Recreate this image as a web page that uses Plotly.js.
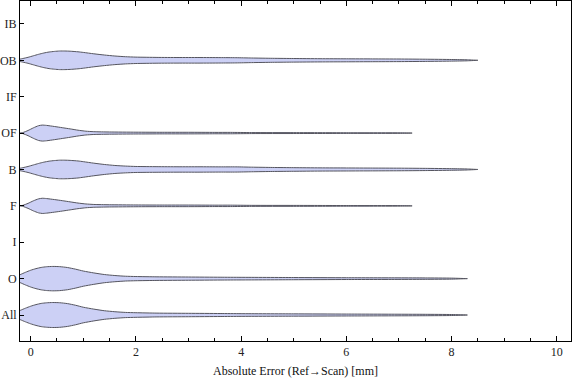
<!DOCTYPE html>
<html>
<head>
<meta charset="utf-8">
<script src="https://cdn.plot.ly/plotly-3.0.1.min.js"></script>
<style>html,body{margin:0;padding:0;background:#fff;}#chart{width:576px;height:381px;}</style>
</head>
<body>
<div id="chart"></div>
<script>
// Categories (bottom to top)
const categories = ["All", "O", "I", "F", "B", "OF", "IF", "OB", "IB"];

// Estimated density profiles (x = absolute error, d = relative density / half-width)
const allX = [-0.4, -0.3, -0.2, -0.1, 0, 0.1, 0.2, 0.3, 0.42, 0.55, 0.7, 0.85, 1.0, 1.2, 1.4, 1.6, 1.8, 2.0, 2.4, 3.0, 3.6, 4.0, 5.0, 6.0, 7.0, 7.5, 8.0, 8.3];
const allD = [0.6, 2.2, 4.6, 6.8, 8.8, 10.4, 11.6, 12.2, 12.5, 12.3, 11.4, 9.8, 7.8, 5.9, 4.3, 3.3, 2.6, 2.3, 1.9, 1.7, 1.5, 1.35, 1.15, 0.95, 0.8, 0.7, 0.5, 0.0];

const oX = [-0.4, -0.3, -0.2, -0.1, 0, 0.1, 0.2, 0.3, 0.42, 0.55, 0.7, 0.85, 1.0, 1.2, 1.4, 1.6, 1.8, 2.0, 2.4, 3.0, 3.6, 4.0, 5.0, 6.0, 7.0, 7.5, 8.0, 8.3];
const oD = [0.5, 1.8, 4.0, 6.3, 8.4, 10.0, 11.2, 11.9, 12.2, 12.0, 11.1, 9.5, 7.6, 5.7, 4.1, 3.1, 2.4, 2.1, 1.8, 1.6, 1.4, 1.3, 1.1, 0.9, 0.8, 0.7, 0.5, 0.0];

const fX = [-0.2, -0.15, -0.05, 0.05, 0.15, 0.22, 0.3, 0.45, 0.6, 0.75, 0.9, 1.05, 1.2, 1.5, 2.0, 2.5, 3.0, 3.5, 3.8, 4.2, 5.0, 5.5, 6.0, 7.0, 7.25];
const fD = [0.0, 0.5, 2.5, 5.0, 7.0, 7.6, 7.3, 6.3, 5.2, 4.0, 2.8, 1.9, 1.4, 1.1, 0.9, 0.8, 0.8, 0.7, 0.7, 0.5, 0.45, 0.4, 0.3, 0.25, 0.0];

const bX = [-0.35, -0.25, -0.15, -0.05, 0.05, 0.15, 0.25, 0.35, 0.45, 0.55, 0.65, 0.75, 0.9, 1.0, 1.2, 1.4, 1.6, 1.8, 2.0, 2.4, 2.8, 3.2, 3.6, 3.9, 4.2, 4.6, 5.0, 5.5, 6.0, 6.5, 7.0, 7.5, 8.0, 8.3, 8.5];
const bD = [0.2, 0.8, 1.8, 3.0, 4.5, 6.0, 7.3, 8.3, 8.9, 9.3, 9.3, 9.1, 8.5, 7.8, 6.3, 5.0, 4.0, 3.4, 3.0, 2.8, 2.7, 2.7, 2.6, 2.6, 2.3, 2.0, 1.8, 1.6, 1.5, 1.4, 1.3, 1.1, 0.8, 0.5, 0.0];

const ofX = [-0.2, -0.15, -0.05, 0.05, 0.15, 0.22, 0.3, 0.45, 0.6, 0.75, 0.9, 1.05, 1.2, 1.5, 2.0, 2.5, 3.0, 3.5, 3.8, 4.2, 5.0, 5.5, 6.0, 7.0, 7.25];
const ofD = [0.0, 0.5, 2.6, 5.2, 7.4, 8.0, 7.7, 6.6, 5.4, 4.2, 2.9, 1.9, 1.4, 1.1, 0.9, 0.8, 0.8, 0.7, 0.7, 0.5, 0.45, 0.4, 0.3, 0.25, 0.0];

const obX = [-0.35, -0.25, -0.15, -0.05, 0.05, 0.15, 0.25, 0.35, 0.45, 0.55, 0.65, 0.75, 0.9, 1.0, 1.2, 1.4, 1.6, 1.8, 2.0, 2.4, 2.8, 3.2, 3.6, 3.9, 4.2, 4.6, 5.0, 5.5, 6.0, 6.5, 7.0, 7.5, 8.0, 8.3, 8.5];
const obD = [0.2, 0.8, 1.8, 3.0, 4.5, 6.0, 7.3, 8.3, 8.9, 9.3, 9.3, 9.1, 8.5, 7.9, 6.5, 5.3, 4.3, 3.6, 3.2, 2.9, 2.8, 2.8, 2.7, 2.6, 2.3, 2.0, 1.8, 1.6, 1.5, 1.4, 1.3, 1.1, 0.8, 0.5, 0.0];

const profiles = {
  "All": [allX, allD],
  "O": [oX, oD],
  "F": [fX, fD],
  "B": [bX, bD],
  "OF": [ofX, ofD],
  "OB": [obX, obD]
};

const xTickVals = [0, 2, 4, 6, 8, 10];

// ---- build traces ----
const WSCALE = 1 / 36.4; // density -> category units
const traces = [];
categories.forEach((cat, i) => {
  const p = profiles[cat];
  if (!p) return;
  const c = i + 1;
  const xs = p[0], ds = p[1];
  const rx = xs.slice().reverse(), rd = ds.slice().reverse();
  traces.push({
    type: 'scatter', mode: 'lines',
    x: xs.concat(rx),
    y: ds.map(d => c + d * WSCALE).concat(rd.map(d => c - d * WSCALE)),
    fill: 'toself',
    fillcolor: 'rgb(204,208,245)',
    line: {color: 'rgb(85,85,95)', width: 1, shape: 'spline', smoothing: 0.6},
    hoverinfo: 'skip', showlegend: false
  });
});

const fontFam = '"Liberation Serif", "DejaVu Serif", serif';
const layout = {
  width: 576, height: 381,
  margin: {l: 20, r: 5, t: 1, b: 40},
  paper_bgcolor: '#fff', plot_bgcolor: '#fff',
  showlegend: false,
  font: {family: fontFam, size: 12, color: '#222'},
  xaxis: {
    range: [-0.203, 10.27],
    tickvals: xTickVals,
    ticktext: xTickVals.map(String),
    ticks: 'inside', ticklen: 5, tickwidth: 1, tickcolor: '#000',
    minor: {dtick: 0.5, ticks: 'inside', ticklen: 3, tickcolor: '#000', showgrid: false},
    showline: true, linecolor: '#000', linewidth: 1, mirror: 'allticks',
    showgrid: false, zeroline: false,
    tickfont: {family: fontFam, size: 12, color: '#222'},
    title: {text: 'Absolute Error (Ref\u2192Scan) [mm]', font: {family: fontFam, size: 12, color: '#111'}, standoff: 8}
  },
  yaxis: {
    range: [0.286, 9.63],
    tickvals: categories.map((c, i) => i + 1),
    ticktext: categories,
    ticks: 'inside', ticklen: 4, tickwidth: 1, tickcolor: '#000',
    showline: true, linecolor: '#000', linewidth: 1, mirror: true,
    showgrid: false, zeroline: false,
    tickfont: {family: fontFam, size: 12, color: '#222'}
  }
};

Plotly.newPlot('chart', traces, layout, {staticPlot: true, displayModeBar: false});
</script>
</body>
</html>
